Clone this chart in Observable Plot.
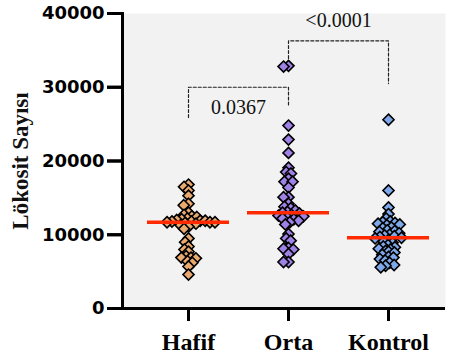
<!DOCTYPE html>
<html><head><meta charset="utf-8">
<script src="https://cdn.jsdelivr.net/npm/d3@7"></script>
<script src="https://cdn.jsdelivr.net/npm/@observablehq/plot@0.6"></script>
<style>
body{margin:0;background:#fff;}
#wrap{position:relative;width:451px;height:360px;}
#wrap svg{position:absolute;left:0;top:0;}
</style></head><body><div id="wrap"></div>
<script>
const groups = ["Hafif", "Orta", "Kontrol"];
const colors = ["#eaa96f", "#9f82e6", "#7ea8ea"];
const hafif = [16800, 16500, 16000, 15300, 14200, 14000, 13000, 12700, 12500, 12400, 12200, 12100, 12000, 11900, 11900, 11800, 11800, 11700, 11700, 11700, 11600, 11500, 11300, 11100, 10800, 9500, 9000, 8400, 8000, 7700, 7100, 6900, 6900, 6800, 6400, 6200, 5700, 4600];
const orta = [32900, 32800, 24800, 22900, 21100, 19100, 18500, 18300, 17600, 17200, 17200, 16400, 15100, 15100, 14200, 13800, 13600, 13300, 13100, 13000, 12900, 12700, 12600, 12500, 12300, 12200, 12100, 11900, 11700, 11400, 10100, 9500, 9200, 8200, 8100, 8000, 7400, 6300, 6300];
const kontrol = [25600, 16000, 13700, 12800, 12200, 11800, 11700, 11600, 11500, 11400, 11300, 11000, 10900, 10600, 10500, 10400, 10200, 10000, 9900, 9800, 9700, 9600, 9500, 9300, 9100, 8900, 8600, 8400, 8300, 8100, 8000, 7800, 7700, 7600, 7300, 7000, 6900, 6700, 6500, 6200, 5900, 5800, 5600];
const yTicks = [0, 10000, 20000, 30000, 40000];
const yLabel = "Lökosit Sayısı";
const comparisons = [
  {a: "Hafif", b: "Orta", top: 30000, endA: 25900, endB: 27500, label: "0.0367", labelY: 27300},
  {a: "Orta", b: "Kontrol", top: 36300, endA: 33900, endB: 30500, label: "<0.0001", labelY: 39000}
];

const series = [hafif, orta, kontrol];
const rows = groups.flatMap((g, i) => series[i].map(v => ({group: g, value: v})));
const bracketPts = comparisons.flatMap((c, i) => [
  {id: i, g: c.a, v: c.endA}, {id: i, g: c.a, v: c.top},
  {id: i, g: c.b, v: c.top}, {id: i, g: c.b, v: c.endB}
]);

const W = 451, H = 360;
const M = {marginLeft: 122, marginRight: 6, marginTop: 13, marginBottom: 52};
const plotW = W - M.marginLeft - M.marginRight;
const plotH = H - M.marginTop - M.marginBottom;
const yTickLen = 15, xTickLen = 13;
const band = {type: "band", domain: groups, paddingInner: 0, paddingOuter: 0.115, align: 0.696};
const yScale = {domain: [0, 40000]};

const back = Plot.plot({
  width: W, height: H, ...M,
  x: {...band},
  y: {...yScale},
  marks: [
    Plot.frame({fill: "#f2f2f2", stroke: "none"}),
    Plot.line(bracketPts, {x: "g", y: "v", z: "id", stroke: "#222", strokeWidth: 1.2, strokeDasharray: "3,2"}),
    Plot.text(comparisons, {x: "b", y: "labelY", text: "label", dx: -50, fontSize: 20, fontFamily: "Liberation Serif", fill: "#111"}),
    Plot.text([yLabel], {frameAnchor: "left", textAnchor: "middle", rotate: -90, dx: -102, fontSize: 23, fontWeight: "bold", fontFamily: "Liberation Serif", fill: "#111"}),
    // tick marks drawn as rules reaching out of the frame
    Plot.ruleY(yTicks, {stroke: "black", strokeWidth: 3, insetLeft: -yTickLen, insetRight: plotW}),
    Plot.ruleX(groups, {stroke: "black", strokeWidth: 3, insetTop: plotH, insetBottom: -xTickLen}),
    Plot.frame({anchor: "left", stroke: "black", strokeWidth: 3}),
    Plot.ruleY([0], {stroke: "black", strokeWidth: 3}),
    Plot.axisY({ticks: yTicks, tickSize: yTickLen, tickPadding: 3, strokeWidth: 3, color: "black",
      tickFormat: d => String(d), fontSize: 18, fontWeight: "bold", fontFamily: "DejaVu Sans", label: null}),
    Plot.axisX({tickSize: xTickLen, tickPadding: 11, strokeWidth: 3, color: "black",
      fontSize: 24, fontWeight: "bold", fontFamily: "Liberation Serif", label: null})
  ]
});

const front = Plot.plot({
  width: W, height: H, ...M,
  facet: {data: rows, x: "group"},
  fx: {...band, axis: null, label: null},
  y: {...yScale, axis: null},
  color: {domain: groups, range: colors},
  style: {background: "transparent"},
  marks: [
    Plot.dot(rows, Plot.dodgeX({anchor: "middle", padding: -5},
      {y: "value", r: 5, symbol: "diamond2", fill: "group", stroke: "black", strokeWidth: 1.6})),
    Plot.tickY(rows, Plot.groupZ({y: "median"},
      {y: "value", stroke: "#ff2a00", strokeWidth: 3.5, insetLeft: 9, insetRight: 9}))
  ]
});

document.getElementById("wrap").append(back, front);
</script></body></html>
